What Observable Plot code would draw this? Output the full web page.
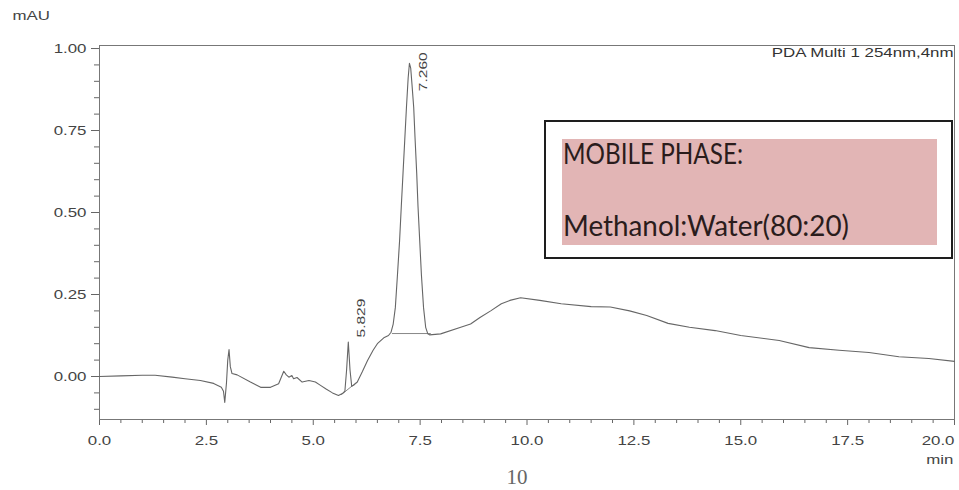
<!DOCTYPE html>
<html>
<head>
<meta charset="utf-8">
<script src="https://cdn.jsdelivr.net/npm/d3@7"></script>
<script src="https://cdn.jsdelivr.net/npm/@observablehq/plot@0.6"></script>
<style>
  html, body { margin: 0; padding: 0; background: #fff; }
  #wrap { position: relative; width: 959px; height: 490px; overflow: hidden; }
  #overlay { position: absolute; left: 0; top: 0; pointer-events: none; }
</style>
</head>
<body>
<div id="wrap"></div>
<script>
// ---- data ----
const retentionTime = [
  0.0, 0.5, 1.0, 1.3, 1.7, 2.0, 2.36, 2.67, 2.85, 2.90, 2.93, 2.97, 3.00, 3.03, 3.06, 3.10,
  3.22, 3.53, 3.77, 4.00, 4.19, 4.31, 4.37, 4.43, 4.50, 4.54, 4.62, 4.74, 4.90, 5.05, 5.17,
  5.30, 5.45, 5.59, 5.68, 5.74, 5.78, 5.82, 5.86, 5.90, 5.96, 6.03, 6.15, 6.27, 6.40, 6.50,
  6.65, 6.76, 6.82, 6.87, 6.92, 6.97, 7.02, 7.06, 7.10, 7.14, 7.18, 7.22, 7.25, 7.28, 7.31,
  7.35, 7.38, 7.42, 7.45, 7.49, 7.53, 7.58, 7.63, 7.68, 7.72, 7.98, 8.45, 8.68, 8.90, 9.15,
  9.40, 9.60, 9.85, 10.3, 10.8, 11.5, 11.95, 12.4, 12.8, 13.3, 13.8, 14.4, 15.0, 15.9, 16.6,
  17.3, 18.0, 18.7, 19.4, 20.0
];
const absorbance = [
  0.000, 0.002, 0.004, 0.004, -0.002, -0.007, -0.012, -0.021, -0.033, -0.045, -0.079, -0.020, 0.050, 0.082, 0.030, 0.009,
  0.005, -0.017, -0.033, -0.033, -0.022, 0.016, 0.005, -0.002, 0.003, -0.007, -0.003, -0.017, -0.012, -0.017, -0.027,
  -0.038, -0.050, -0.058, -0.052, -0.045, 0.020, 0.105, 0.020, -0.030, -0.025, -0.017, 0.015, 0.049, 0.080, 0.100,
  0.118, 0.125, 0.135, 0.160, 0.210, 0.310, 0.415, 0.520, 0.620, 0.720, 0.820, 0.910, 0.955, 0.940, 0.890,
  0.820, 0.730, 0.620, 0.520, 0.415, 0.310, 0.210, 0.150, 0.130, 0.127, 0.130, 0.150, 0.160, 0.180, 0.200,
  0.222, 0.232, 0.240, 0.232, 0.222, 0.213, 0.212, 0.200, 0.186, 0.162, 0.150, 0.140, 0.125, 0.110, 0.088,
  0.080, 0.073, 0.060, 0.055, 0.046
];

// peak annotations
const peakTimes = [5.829, 7.260];
const peakLabelLevel = [0.119, 0.870];
const peakLabels = ["5.829", "7.260"];

// integration baselines (two segments)
const baseline1Time = [5.66, 6.04];
const baseline1Value = [-0.055, -0.015];
const baseline2Time = [6.85, 7.74];
const baseline2Value = [0.131, 0.131];

// axis ticks
const xMajorTicks = [0, 2.5, 5, 7.5, 10, 12.5, 15, 17.5, 20];
const xMinorTicks = d3.range(0, 20.001, 0.5).filter(v => Math.abs(v / 2.5 - Math.round(v / 2.5)) > 1e-6);
const yMajorTicks = [0, 0.25, 0.5, 0.75, 1.0];
const yMinorTicks = d3.range(-0.10, 1.0001, 0.05).map(v => +v.toFixed(2)).filter(v => Math.abs(v / 0.25 - Math.round(v / 0.25)) > 1e-6);

const detectorLabel = "PDA Multi 1 254nm,4nm";
const yUnit = "mAU";
const xUnit = "min";
const boxTitle = "MOBILE PHASE:";
const boxText = "Methanol:Water(80:20)";
const pageNumber = "10";

// ---- build ----
const trace = retentionTime.map((t, i) => ({t, v: absorbance[i]}));
const seg1 = baseline1Time.map((t, i) => ({t, v: baseline1Value[i]}));
const seg2 = baseline2Time.map((t, i) => ({t, v: baseline2Value[i]}));
const peaks = peakTimes.map((t, i) => ({t, v: peakLabelLevel[i], label: peakLabels[i]}));

const fmt1 = d => d.toFixed(1);
const fmt2 = d => d.toFixed(2);
const blank = () => "";

const chart = Plot.plot({
  width: 959,
  height: 490,
  marginLeft: 99,
  marginRight: 5,
  marginTop: 45,
  marginBottom: 71,
  x: {domain: [0, 20]},
  y: {domain: [-0.1311, 1.0092]},
  style: {fontFamily: "'Liberation Sans', Arial, sans-serif", fontSize: "12.5px", color: "#444", background: "#fff"},
  marks: [
    Plot.axisX({ticks: xMajorTicks.slice(0, -1), tickSize: 6, tickPadding: 11, tickFormat: fmt1, label: null, stroke: "#666"}),
    Plot.axisX({ticks: xMajorTicks.slice(-1), tickSize: 6, tickPadding: 11, tickFormat: fmt1, label: null, textAnchor: "end", stroke: "#666"}),
    Plot.axisX({ticks: xMinorTicks, tickSize: 4, tickFormat: blank, label: null, stroke: "#666"}),
    Plot.axisY({ticks: yMajorTicks, tickSize: 8, tickPadding: 5, tickFormat: fmt2, label: null, stroke: "#666"}),
    Plot.axisY({ticks: yMinorTicks, tickSize: 5, tickFormat: blank, label: null, stroke: "#666"}),
    Plot.frame({stroke: "#777"}),
    Plot.line(seg1, {x: "t", y: "v", stroke: "#888", strokeWidth: 1}),
    Plot.line(seg2, {x: "t", y: "v", stroke: "#888", strokeWidth: 1}),
    Plot.line(trace, {x: "t", y: "v", stroke: "#666", strokeWidth: 1.1, curve: "linear"}),
    Plot.text(peaks, {x: "t", y: "v", text: "label", rotate: -90, textAnchor: "start", dx: 13, fontSize: 11.5, fill: "#444"}),
    Plot.text([detectorLabel], {text: d => d, frameAnchor: "top-right", textAnchor: "end", lineAnchor: "top", dx: -1, dy: 3, fill: "#333"}),
    Plot.text([yUnit], {text: d => d, frameAnchor: "top-left", textAnchor: "start", lineAnchor: "top", dx: -87, dy: -34, fill: "#444"}),
    Plot.text([xUnit], {text: d => d, frameAnchor: "bottom-right", textAnchor: "end", lineAnchor: "top", dx: -1, dy: 36, fill: "#444"})
  ]
});

// The original raster is horizontally stretched: widen glyphs around their anchors.
const SX = 1.35;
chart.querySelectorAll("text").forEach(t => {
  const tr = t.getAttribute("transform") || "";
  const x = +t.getAttribute("x") || 0;
  t.setAttribute("transform", `${tr} translate(${x},0) scale(${SX},1) translate(${-x},0)`);
});

const wrap = document.getElementById("wrap");
wrap.appendChild(chart);

// annotation overlay: mobile-phase text box and page number
const ov = d3.select(wrap).append("svg")
  .attr("id", "overlay").attr("width", 959).attr("height", 490);
ov.append("rect").attr("x", 545).attr("y", 121).attr("width", 407).attr("height", 137)
  .attr("fill", "#fff").attr("stroke", "#1e1e1e").attr("stroke-width", 2);
ov.append("rect").attr("x", 562).attr("y", 139).attr("width", 375).attr("height", 106)
  .attr("fill", "#e2b5b5");
ov.append("text").attr("x", 563).attr("y", 164).text(boxTitle)
  .attr("font-family", "Lato, 'Open Sans', sans-serif").attr("font-size", 28)
  .attr("textLength", 180).attr("lengthAdjust", "spacingAndGlyphs").attr("fill", "#2a1c1c");
ov.append("text").attr("x", 563).attr("y", 236).text(boxText)
  .attr("font-family", "Lato, 'Open Sans', sans-serif").attr("font-size", 28)
  .attr("textLength", 286).attr("lengthAdjust", "spacingAndGlyphs").attr("fill", "#2a1c1c");
ov.append("text").attr("x", 517).attr("y", 484).attr("text-anchor", "middle").text(pageNumber)
  .attr("font-family", "'Liberation Serif', 'DejaVu Serif', serif").attr("font-size", 21).attr("fill", "#666");
</script>
</body>
</html>
